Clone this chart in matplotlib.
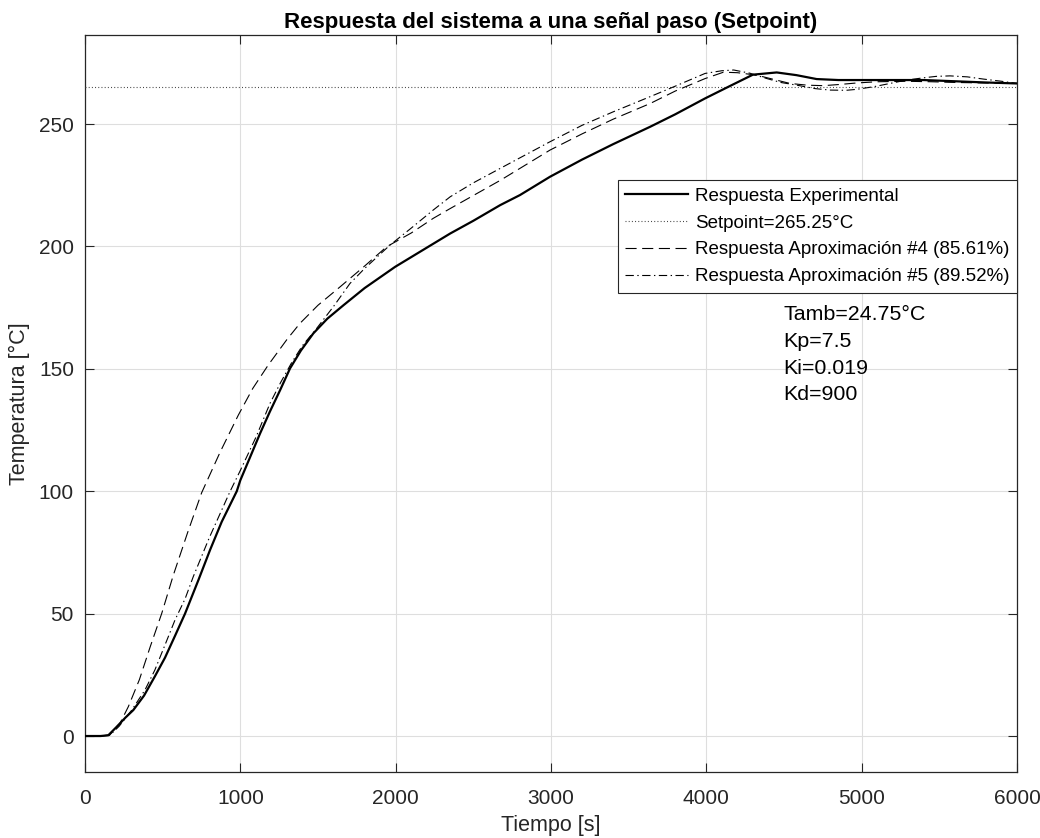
import matplotlib
matplotlib.use("Agg")
import matplotlib.pyplot as plt

plt.rcParams['font.family'] = ['Liberation Sans', 'DejaVu Sans']
plt.rcParams['lines.scale_dashes'] = False

# ---- data ----
t_exp = [0, 100, 150, 200, 260, 311, 380, 451, 515, 580, 644, 730, 805, 880, 977,
         1000, 1060, 1127, 1190, 1256, 1320, 1390, 1470, 1560, 1664, 1800, 1997, 2200, 2351,
         2500, 2673, 2800, 2994, 3200, 3400, 3638, 3800, 3992, 4150, 4300, 4453, 4580,
         4710, 4850, 4968, 5200, 5397, 5600, 5800, 6000]
y_exp = [0, 0, 0.3, 3.5, 7.5, 10.6, 16.5, 24.5, 32, 41, 50, 63.7, 76, 87.5, 100,
         104.5, 113.5, 123.6, 132.5, 141.3, 150.2, 157.5, 164.5, 170.5, 176, 183, 191.7, 199.5, 205.3,
         210.5, 216.9, 221, 228.5, 235.5, 241.8, 248.9, 254, 260.5, 265.5, 270.2, 271.1, 270,
         268.4, 268, 268, 268, 268, 267.5, 267, 266.6]

t_ap4 = [0, 100, 160, 220, 279, 350, 420, 494, 569, 660, 751, 870, 987, 1080, 1180,
         1300, 1384, 1500, 1642, 1800, 1942, 2100, 2242, 2351, 2673, 2994, 3200, 3400, 3638, 3800,
         3992, 4110, 4200, 4324, 4450, 4539, 4650, 4753, 4860, 4968, 5100, 5289, 5450, 5611,
         5800, 6000]
y_ap4 = [0, 0, 0.5, 4.5, 12, 23, 36.5, 50.1, 65.8, 83, 99.4, 116, 131.1, 142, 151.6,
         162, 168.6, 176, 183.5, 192, 199.9, 205.5, 211.5, 215.5, 227, 239.4, 246, 252, 258.4, 263.5,
         268.6, 271.2, 271, 270, 268, 266.6, 265.9, 265.7, 266.2, 266.8, 267.3, 267.5, 267.3, 267,
         266.8, 266.6]

t_ap5 = [0, 100, 160, 220, 300, 386, 450, 520, 580, 644, 697, 800, 933, 1000, 1100, 1191,
         1260, 1330, 1400, 1491, 1600, 1706, 1800, 1964, 2100, 2242, 2351, 2500, 2673, 2994,
         3200, 3400, 3638, 3800, 3992, 4100, 4176, 4280, 4390, 4480, 4583, 4700, 4797, 4900,
         4968, 5080, 5182, 5290, 5397, 5480, 5569, 5680, 5783, 5900, 6000]
y_ap5 = [0, 0, 0.3, 4, 10.5, 18.8, 27, 38, 47.5, 56, 65.1, 81, 99.8, 108.5, 122, 135.9,
         144.5, 152.5, 159.5, 166.5, 175.5, 184.9, 191, 200.6, 207.5, 214.9, 220.3, 226, 231.9, 242.8,
         249.5, 255, 261.2, 265.5, 270.7, 271.8, 272.1, 270.8, 268.6, 267, 265.9, 264.5, 263.9, 263.8,
         264.2, 265.3, 266.6, 268, 268.9, 269.5, 269.7, 269.3, 268.4, 267.5, 266.6]

setpoint = 265.25
labels = ['Respuesta Experimental', 'Setpoint=265.25°C',
          'Respuesta Aproximación #4 (85.61%)', 'Respuesta Aproximación #5 (89.52%)']
title = 'Respuesta del sistema a una señal paso (Setpoint)'
info = 'Tamb=24.75°C\nKp=7.5\nKi=0.019\nKd=900'
xticks = [0, 1000, 2000, 3000, 4000, 5000, 6000]
yticks = [0, 50, 100, 150, 200, 250]

# ---- figure ----
fig = plt.figure(figsize=(10.4, 8.38), dpi=100)
ax = fig.add_axes([85/1040, 1-772/838, (1017-85)/1040, (772-35)/838])

axc = '#262626'
ax.plot(t_exp, y_exp, color='black', lw=1.6, label=labels[0], zorder=4)
ax.axhline(setpoint, color='#404040', lw=0.8, linestyle=(0, (0.7, 1.6)), label=labels[1], zorder=3)
ax.plot(t_ap4, y_ap4, color='black', lw=0.8, linestyle=(0, (8, 4)), label=labels[2], zorder=3)
ax.plot(t_ap5, y_ap5, color='black', lw=0.8, linestyle=(0, (6, 2.5, 1, 2.5)), label=labels[3], zorder=3)

ax.set_xlim(0, 6000)
ax.set_ylim(-14.7, 286.4)
ax.set_xticks(xticks)
ax.set_yticks(yticks)
ax.grid(True, color='#dedede', lw=0.8)
ax.set_axisbelow(True)
ax.tick_params(direction='in', length=6.5, width=0.8, colors=axc, labelsize=15,
               top=True, right=True)
ax.tick_params(axis='x', pad=12)
ax.tick_params(axis='y', pad=8)
for s in ax.spines.values():
    s.set_color(axc)
    s.set_linewidth(0.9)

ax.set_title(title, fontsize=16, fontweight='bold', pad=5)
ax.set_xlabel('Tiempo [s]', fontsize=15.5, color=axc, labelpad=5)
ax.set_ylabel('Temperatura [°C]', fontsize=15.5, color=axc, labelpad=6)

leg = ax.legend(loc='upper right', bbox_to_anchor=(1.0, (772-180)/737), fontsize=13.5,
                handlelength=3.36, handletextpad=0.37, labelspacing=0.52, borderpad=0.4,
                borderaxespad=0.0, fancybox=False, framealpha=1, edgecolor=axc)
leg.get_frame().set_linewidth(0.8)

ax.text((783-85)/932, (772-305)/737, info, transform=ax.transAxes, fontsize=15.4,
        va='top', ha='left', linespacing=1.52, color='black')

fig.savefig('out.png', dpi=100)
